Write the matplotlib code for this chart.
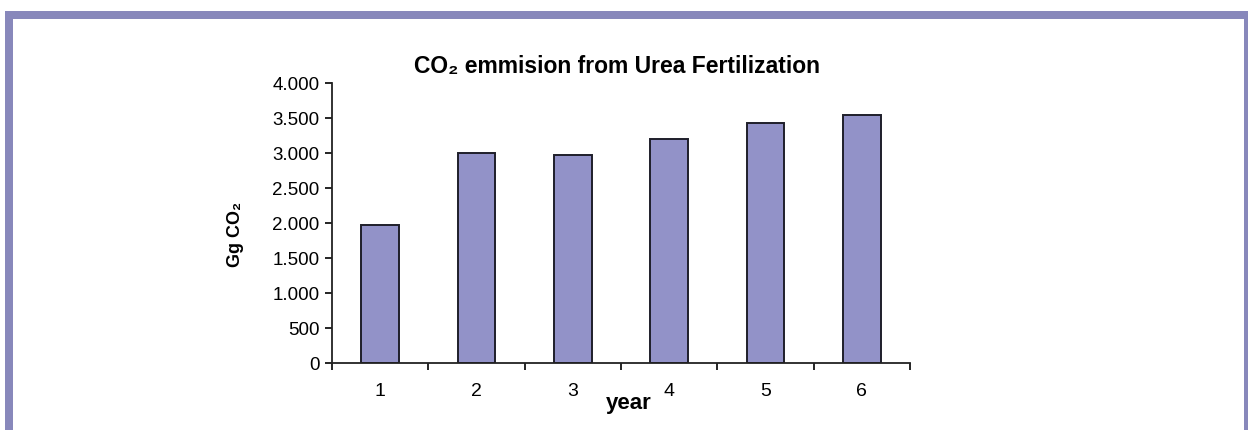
import matplotlib
matplotlib.use("Agg")
import matplotlib.pyplot as plt
from matplotlib.patches import Rectangle

years = [1, 2, 3, 4, 5, 6]
emissions = [1970, 3000, 2970, 3210, 3430, 3545]
yticks = [0, 500, 1000, 1500, 2000, 2500, 3000, 3500, 4000]
ytick_labels = ["0", "500", "1.000", "1.500", "2.000", "2.500", "3.000", "3.500", "4.000"]

W, H = 1248, 430
FONT = ["Liberation Sans", "DejaVu Sans"]
plt.rcParams["font.family"] = FONT

fig = plt.figure(figsize=(W / 100, H / 100), dpi=100)
fig.patch.set_facecolor("white")

border = "#8888bb"
def px_rect(x0, y0, x1, y1):
    fig.patches.append(Rectangle((x0 / W, 1 - y1 / H), (x1 - x0) / W, (y1 - y0) / H,
                                 transform=fig.transFigure, facecolor=border,
                                 edgecolor="none", zorder=0))
px_rect(5, 11, 13, 430)
px_rect(5, 11, 1248, 19)
px_rect(1244, 11, 1248, 430)

ax = fig.add_axes([332 / W, 1 - 363.3 / H, (910 - 332) / W, (363.3 - 83.3) / H])
ax.bar(years, emissions, width=0.39, color="#9292c8", edgecolor="#1e1e2a", linewidth=1.4, zorder=2)
ax.set_xlim(0.5, 6.5)
ax.set_ylim(0, 4000)
ax.set_yticks(yticks)
ax.set_yticklabels(ytick_labels)
ax.set_xticks(years)
ax.set_xticklabels([str(y) for y in years])
ax.set_xticks([0.5 + i for i in range(7)], minor=True)
ax.tick_params(axis="x", which="major", length=0, pad=14, labelsize=14)
ax.tick_params(axis="x", which="minor", length=5, width=1.2, direction="out")
ax.tick_params(axis="y", length=5, width=1.2, pad=4, labelsize=13.5)
for s in ("top", "right"):
    ax.spines[s].set_visible(False)
for s in ("left", "bottom"):
    ax.spines[s].set_linewidth(1.3)
    ax.spines[s].set_color("#222222")

fig.text(617 / W, 1 - 66 / H, "CO₂ emmision from Urea Fertilization", ha="center", va="center",
         fontsize=16.5, fontweight="bold")
fig.text(629 / W, 1 - 404 / H, "year", ha="center", va="center", fontsize=16, fontweight="bold")
fig.text(236 / W, 1 - 234 / H, "Gg CO₂", ha="center", va="center", rotation=90,
         fontsize=13, fontweight="bold")

fig.savefig("out.png", dpi=100)
